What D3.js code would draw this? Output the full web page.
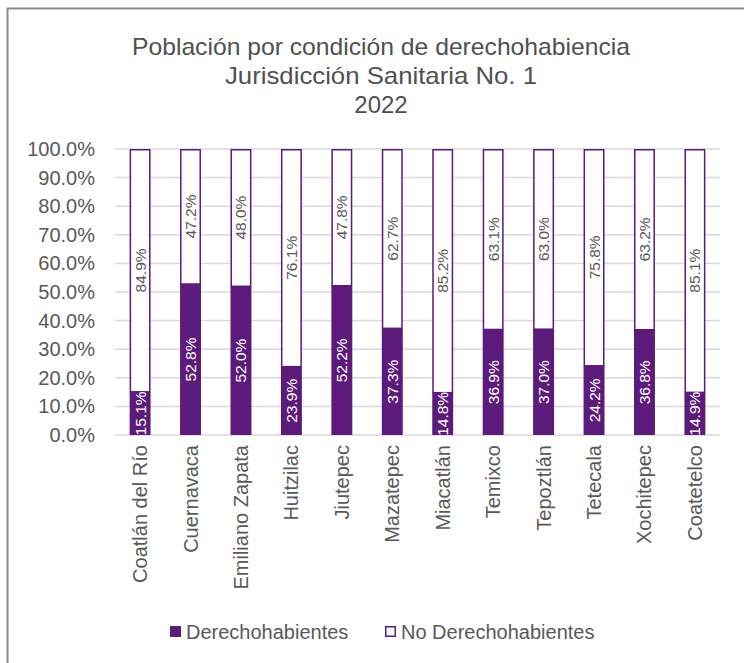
<!DOCTYPE html>
<html>
<head>
<meta charset="utf-8">
<script src="https://cdn.jsdelivr.net/npm/d3@7"></script>
<style>
  html, body { margin: 0; padding: 0; background: #fff; }
  svg { display: block; font-family: "Liberation Sans", Arial, sans-serif; }
</style>
</head>
<body>
<svg id="chart" width="744" height="663"></svg>
<script>
const categories = ["Coatlán del Río", "Cuernavaca", "Emiliano Zapata", "Huitzilac", "Jiutepec", "Mazatepec", "Miacatlán", "Temixco", "Tepoztlán", "Tetecala", "Xochitepec", "Coatetelco"];
const derechohabientes = [15.1, 52.8, 52.0, 23.9, 52.2, 37.3, 14.8, 36.9, 37.0, 24.2, 36.8, 14.9];
const noDerechohabientes = [84.9, 47.2, 48.0, 76.1, 47.8, 62.7, 85.2, 63.1, 63.0, 75.8, 63.2, 85.1];
const yTicks = [0, 10, 20, 30, 40, 50, 60, 70, 80, 90, 100];
const titleLines = ["Población por condición de derechohabiencia", "Jurisdicción Sanitaria No. 1", "2022"];
const seriesNames = ["Derechohabientes", "No Derechohabientes"];

const purple = "#5c1a7b";
const textGray = "#595959";
const svg = d3.select("#chart");

// outer border
svg.append("rect").attr("x", 7.5).attr("y", 8.5).attr("width", 760).attr("height", 700)
  .attr("fill", "none").attr("stroke", "#8c8c8c").attr("stroke-width", 2);

const plot = { left: 115, right: 720, top: 149, bottom: 435 };
const x = d3.scaleBand().domain(categories).range([plot.left, plot.right]).paddingInner(0.585).paddingOuter(0.29);
const y = d3.scaleLinear().domain([0, 100]).range([plot.bottom, plot.top]);

// title
svg.append("g").selectAll("text").data(titleLines).join("text")
  .attr("x", 381).attr("y", (d, i) => 55 + i * 29)
  .attr("text-anchor", "middle").attr("fill", "#505050")
  .attr("font-size", 24).attr("textLength", (d, i) => [498, 312, null][i])
  .attr("lengthAdjust", "spacingAndGlyphs")
  .text(d => d);
svg.selectAll("text").filter(function () { return this.getAttribute("textLength") === null || this.getAttribute("textLength") === "null"; })
  .attr("textLength", null);

// gridlines
svg.append("g").selectAll("line").data(yTicks).join("line")
  .attr("x1", plot.left).attr("x2", plot.right)
  .attr("y1", d => y(d)).attr("y2", d => y(d))
  .attr("stroke", "#d9d9d9").attr("stroke-width", 1.5);

// y axis
const yAxis = d3.axisLeft(y).tickValues(yTicks).tickFormat(d => d.toFixed(1) + "%").tickSize(0).tickPadding(20);
const yg = svg.append("g").attr("transform", `translate(${plot.left},0)`).call(yAxis);
yg.select(".domain").remove();
yg.selectAll("text").attr("fill", textGray).attr("font-size", 20).attr("font-family", "Liberation Sans, Arial, sans-serif");

// bars
const data = categories.map((c, i) => ({ c, a: derechohabientes[i], b: noDerechohabientes[i] }));
const bw = x.bandwidth();
const g = svg.append("g");
g.selectAll("rect.nd").data(data).join("rect").attr("class", "nd")
  .attr("x", d => x(d.c) + 0.75).attr("width", bw - 1.5)
  .attr("y", d => y(d.a + d.b) + 0.75).attr("height", d => y(d.a) - y(d.a + d.b) - 0.75)
  .attr("fill", "#fff").attr("stroke", purple).attr("stroke-width", 1.5);
g.selectAll("rect.d").data(data).join("rect").attr("class", "d")
  .attr("x", d => x(d.c)).attr("width", bw)
  .attr("y", d => y(d.a)).attr("height", d => y(0) - y(d.a))
  .attr("fill", purple);

// data labels
const cx = d => x(d.c) + bw / 2;
g.selectAll("text.ld").data(data).join("text").attr("class", "ld")
  .attr("transform", d => `translate(${cx(d) + 5.5},${(y(0) + y(d.a)) / 2}) rotate(-90)`)
  .attr("text-anchor", "middle").attr("fill", "#fff").attr("font-size", 15.5)
  .text(d => d.a.toFixed(1) + "%");
g.selectAll("text.lnd").data(data).join("text").attr("class", "lnd")
  .attr("transform", d => `translate(${cx(d) + 5.5},${(y(d.a) + y(d.a + d.b)) / 2}) rotate(-90)`)
  .attr("text-anchor", "middle").attr("fill", textGray).attr("font-size", 15.5)
  .text(d => d.b.toFixed(1) + "%");

// x axis labels
const xAxis = d3.axisBottom(x).tickSize(0).tickPadding(0);
const xg = svg.append("g").attr("transform", `translate(0,${plot.bottom})`).call(xAxis);
xg.select(".domain").remove();
xg.selectAll("text")
  .attr("font-size", 20).attr("fill", textGray).attr("font-family", "Liberation Sans, Arial, sans-serif")
  .attr("text-anchor", "end").attr("dy", null)
  .attr("transform", "translate(7,10) rotate(-90)")
  .attr("x", 0).attr("y", 0);

// legend
const legend = svg.append("g");
const items = [
  { name: seriesNames[0], x: 170, filled: true },
  { name: seriesNames[1], x: 385, filled: false }
];
items.forEach(it => {
  legend.append("rect").attr("x", it.x + (it.filled ? 0 : 0.75)).attr("y", 626 + (it.filled ? 0 : 0.75))
    .attr("width", it.filled ? 11 : 9.5).attr("height", it.filled ? 11 : 9.5)
    .attr("fill", it.filled ? purple : "#fff").attr("stroke", it.filled ? "none" : purple).attr("stroke-width", 1.5);
  legend.append("text").attr("x", it.x + 16).attr("y", 639).attr("font-size", 20).attr("fill", textGray).text(it.name);
});
</script>
</body>
</html>
